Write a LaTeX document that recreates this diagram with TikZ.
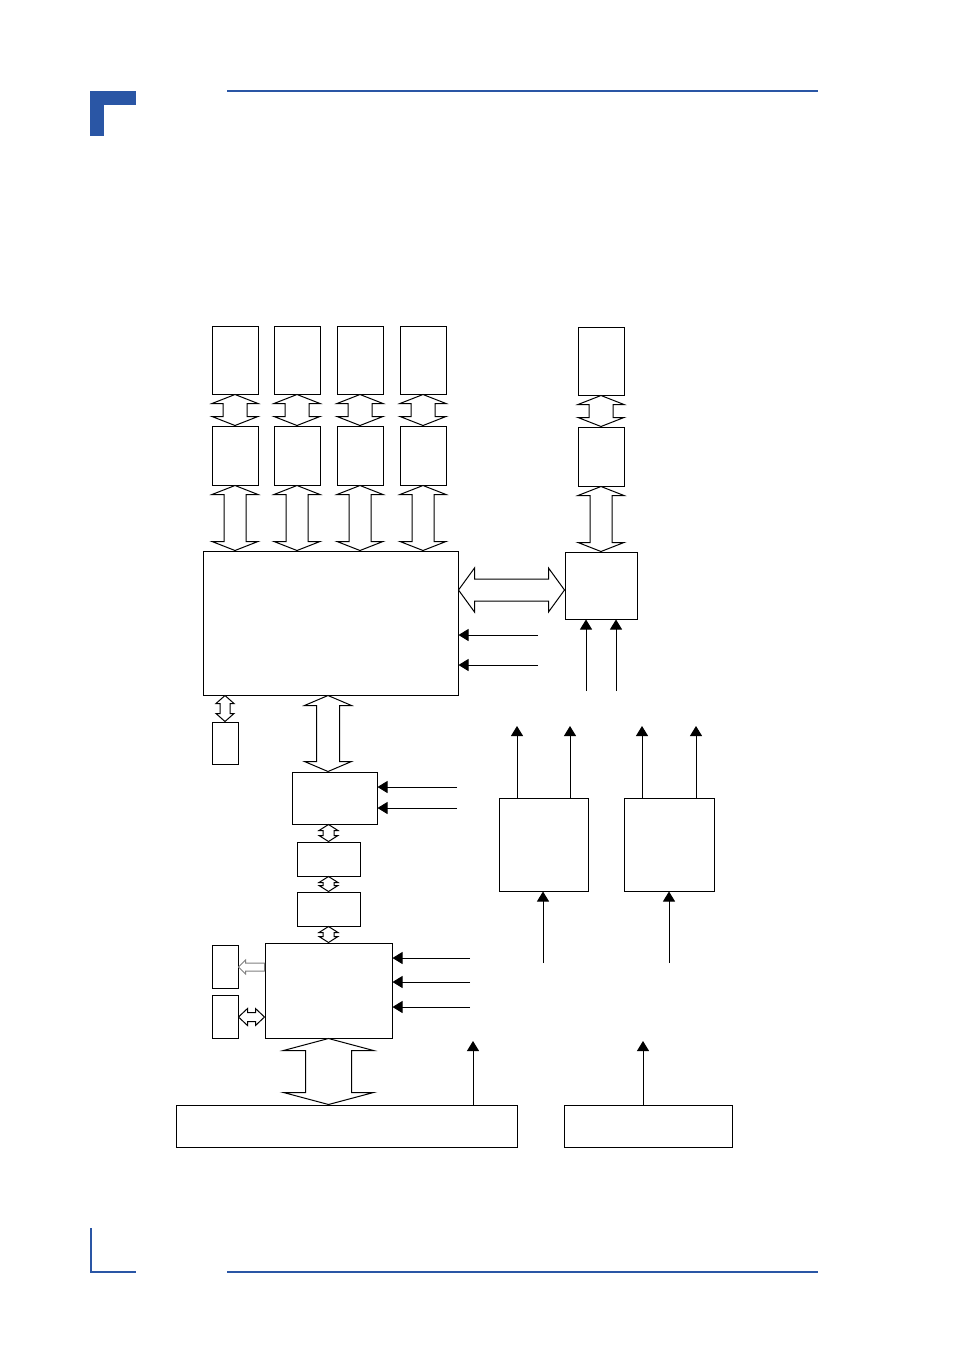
\documentclass[tikz,border=0pt]{standalone}
\definecolor{hdrblue}{HTML}{2A56A5}
\usetikzlibrary{arrows.meta,calc,fit}

\tikzset{
  blk/.style={draw, line width=0.5pt, inner sep=0pt},
  sig/.style={line width=0.5pt, -{Triangle[width=6pt,length=5pt]}},
  busarrow/.style={draw, line width=0.5pt, fill=white},
}

% double block arrow, vertical: top tip, bottom tip, head half, shaft half, head length
\newcommand{\vbus}[5]{%
  \draw[busarrow] #1 -- ($#1+(#3,#5)$) -- ($#1+(#4,#5)$) -- ($#2+(#4,-#5)$)
    -- ($#2+(#3,-#5)$) -- #2 -- ($#2+(-#3,-#5)$) -- ($#2+(-#4,-#5)$)
    -- ($#1+(-#4,#5)$) -- ($#1+(-#3,#5)$) -- cycle;}
% double block arrow, horizontal: left tip, right tip, head half, shaft half, head length
\newcommand{\hbus}[5]{%
  \draw[busarrow] #1 -- ($#1+(#5,-#3)$) -- ($#1+(#5,-#4)$) -- ($#2+(-#5,-#4)$)
    -- ($#2+(-#5,-#3)$) -- #2 -- ($#2+(-#5,#3)$) -- ($#2+(-#5,#4)$)
    -- ($#1+(#5,#4)$) -- ($#1+(#5,#3)$) -- cycle;}

\begin{document}
\begin{tikzpicture}[x=0.5pt,y=-0.5pt]
  \useasboundingbox (0,0) rectangle (954,1350);

  % page header and footer
  \fill[hdrblue] (90,91) rectangle (136,105);
  \fill[hdrblue] (90,91) rectangle (104,136);
  \draw[hdrblue,line width=1pt] (227,91) -- (818,91);
  \draw[hdrblue,line width=0.8pt] (91,1228) -- (91,1272) -- (136,1272);
  \draw[hdrblue,line width=1pt] (227,1272) -- (818,1272);

  % main chip and processor
  \node[blk, fit={(203,551) (458,695)}] (main) {};
  \node[blk, fit={(565,552) (637,619)}] (cpu) {};

  % memory banks
  \foreach \x/\n in {212/1,274/2,337/3,400/4}{
    \node[blk, fit={(\x,326) (\x+46,394)}] (m\n) {};
    \node[blk, fit={(\x,426) (\x+46,485)}] (d\n) {};
    \vbus{(m\n.south)}{(d\n.north)}{23}{12}{9}
    \vbus{(d\n.south)}{(d\n.south |- main.north)}{23}{11}{9}
  }
  \node[blk, fit={(578,327) (624,395)}] (m5) {};
  \node[blk, fit={(578,427) (624,486)}] (d5) {};
  \vbus{(m5.south)}{(d5.north)}{23}{12}{9}
  \vbus{(d5.south)}{(cpu.north)}{23}{11}{9}

  \coordinate (hy) at (0,590);
  \hbus{(main.east |- hy)}{(cpu.west |- hy)}{22}{11}{16}

  \foreach \y in {635,665}{
    \coordinate (in) at (538,\y);
    \draw[sig] (in) -- (in -| main.east);
  }
  \foreach \x in {586,616}{
    \coordinate (cin) at (\x,691);
    \draw[sig] (cin) -- (cin |- cpu.south);
  }

  % below main chip
  \node[blk, fit={(212,722) (238,764)}] (sb) {};
  \vbus{(sb.north |- main.south)}{(sb.north)}{9}{5}{8}

  \coordinate (xb) at (328,0);
  \node[blk, fit={(292,772) (377,824)}] (ctl) {};
  \vbus{(main.south -| xb)}{(ctl.north -| xb)}{23.5}{11.5}{10}
  \foreach \y in {787,808}{
    \coordinate (cn) at (457,\y);
    \draw[sig] (cn) -- (cn -| ctl.east);
  }

  \node[blk, fit={(297,842) (360,876)}] (br1) {};
  \node[blk, fit={(297,892) (360,926)}] (br2) {};
  \node[blk, fit={(265,943) (392,1038)}] (sio) {};
  \vbus{(br1.north |- ctl.south)}{(br1.north)}{9.5}{5.5}{6}
  \vbus{(br1.south)}{(br2.north)}{9.5}{5.5}{6}
  \vbus{(br2.south)}{(br2.south |- sio.north)}{9.5}{5.5}{6}

  \foreach \y in {958,982,1007}{
    \coordinate (sn) at (470,\y);
    \draw[sig] (sn) -- (sn -| sio.east);
  }

  % side devices
  \node[blk, fit={(212,945) (238,988)}] (kb) {};
  \node[blk, fit={(212,995) (238,1038)}] (cm) {};
  \coordinate (gy) at (0,967);
  \draw[gray, line width=0.5pt, fill=white] (kb.east |- gy) -- ++(7,-7) -- ++(0,3)
    -- ($(sio.west |- gy)+(0,-4)$) -- ($(sio.west |- gy)+(0,4)$)
    -- ($(kb.east |- gy)+(7,4)$) -- ++(0,3) -- cycle;
  \coordinate (dy) at (0,1017);
  \hbus{(cm.east |- dy)}{(sio.west |- dy)}{8.5}{4.5}{9}

  % buses
  \node[blk, fit={(176,1105) (517,1147)}] (bus) {};
  \node[blk, fit={(564,1105) (732,1147)}] (bus2) {};
  \vbus{(sio.south)}{(sio.south |- bus.north)}{45}{23}{12}
  \coordinate (bo) at (473,1041);
  \draw[sig] (bo |- bus.north) -- (bo);
  \coordinate (bo2) at (643,1041);
  \draw[sig] (bo2 |- bus2.north) -- (bo2);

  % right side units
  \node[blk, fit={(499,798) (588,891)}] (u1) {};
  \node[blk, fit={(624,798) (714,891)}] (u2) {};
  \foreach \x in {517,570,642,696}{
    \coordinate (uo) at (\x,726);
    \draw[sig] (uo |- u1.north) -- (uo);
  }
  \coordinate (ui1) at (543,963);
  \draw[sig] (ui1) -- (ui1 |- u1.south);
  \coordinate (ui2) at (669,963);
  \draw[sig] (ui2) -- (ui2 |- u2.south);
\end{tikzpicture}
\end{document}
